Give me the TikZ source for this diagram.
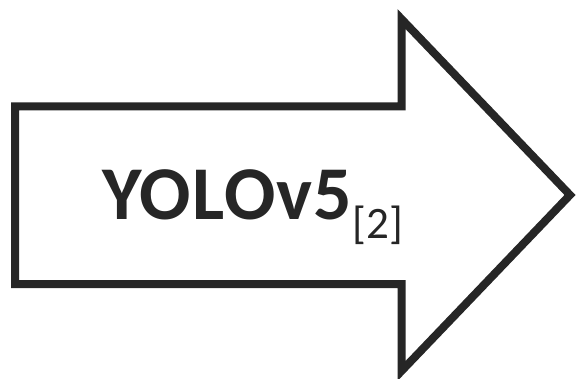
\documentclass[tikz,border=0pt]{standalone}
\usepackage{fontspec}
\setmainfont{Carlito}
\definecolor{ink}{HTML}{262626}
\begin{document}
\begin{tikzpicture}[x=1pt,y=1pt,
  arrowshape/.style={draw=ink,line width=8pt,line join=miter,fill=white},
  label/.style={text=ink,inner sep=0pt,anchor=base west}]
\useasboundingbox (0,0) rectangle (576,378);
\draw[arrowshape] (15,271.5) -- (401.5,271.5) -- (401.5,359) -- (570,183) -- (401.5,7) -- (401.5,94) -- (15,94) -- cycle;
\node[label] (t) at (102,158) {{\fontsize{76}{80}\selectfont\bfseries\addfontfeatures{LetterSpace=1.3}YOLOv5}\hspace{1pt}\raisebox{-19pt}{\fontsize{45}{50}\selectfont [2]}};
\end{tikzpicture}
\end{document}
